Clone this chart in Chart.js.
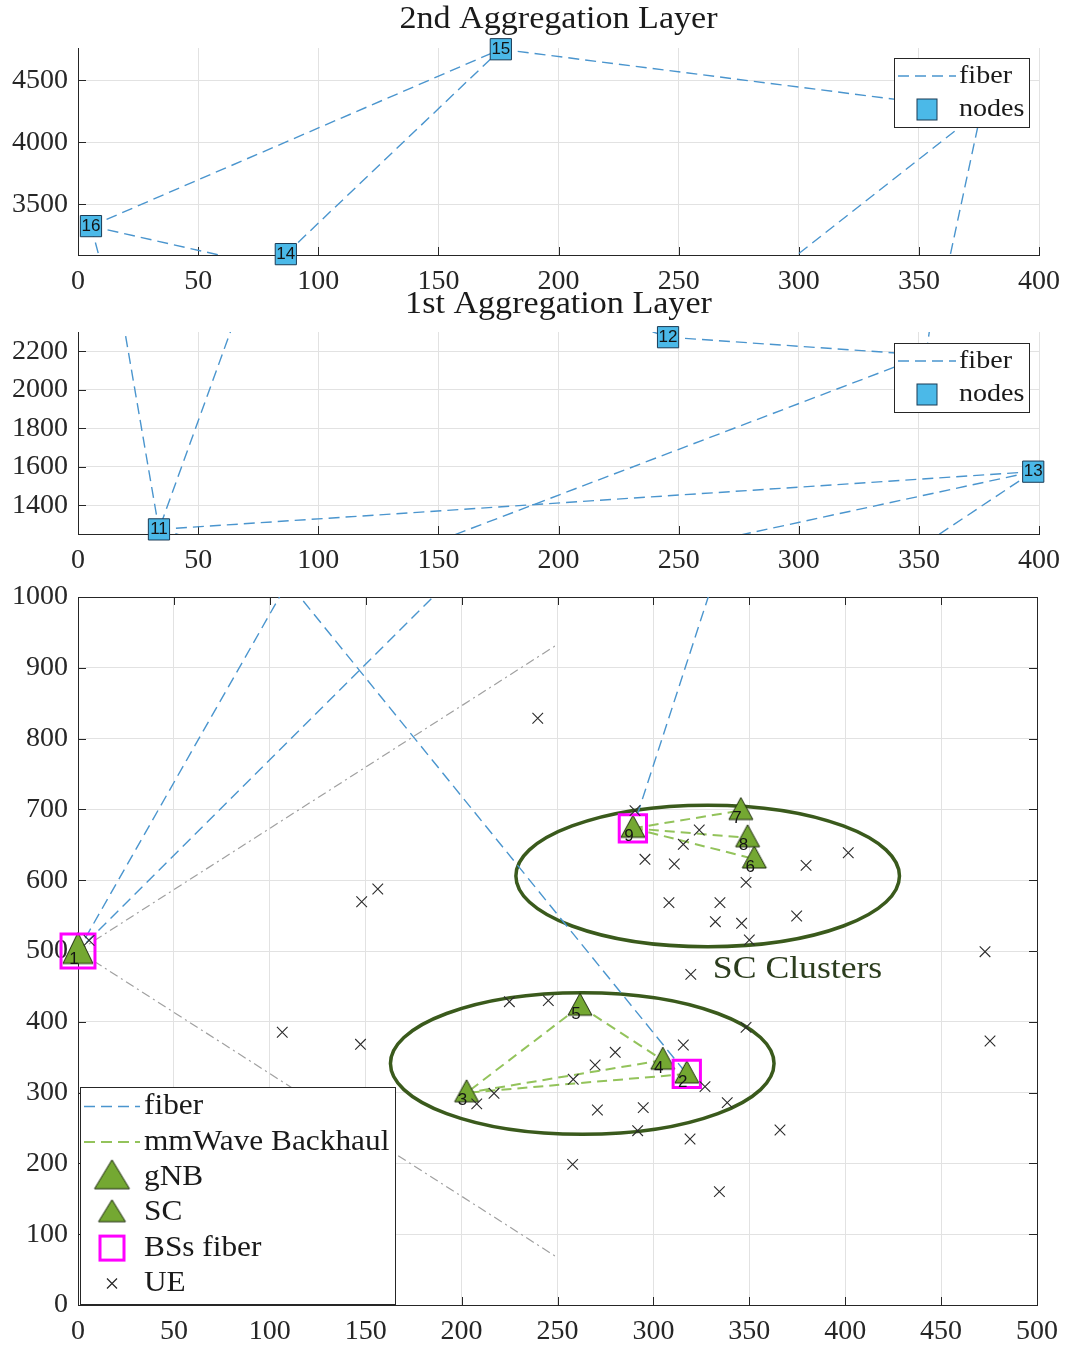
<!DOCTYPE html>
<html>
<head>
<meta charset="utf-8">
<title>Aggregation layers and SC clusters</title>
<script src="https://cdn.jsdelivr.net/npm/chart.js@4.4.1/dist/chart.umd.min.js"></script>
<style>
  html, body { margin: 0; background: #fff; }
  #page { position: relative; width: 1070px; height: 1349px; overflow: hidden; }
  .panel { position: absolute; left: 0; width: 1070px; }
  .panel canvas { display: block; }
</style>
</head>
<body>
<div id="page">
  <div class="panel" style="top:0;height:300px"><canvas id="layer2"></canvas></div>
  <div class="panel" style="top:286px;height:300px"><canvas id="layer1"></canvas></div>
  <div class="panel" style="top:580px;height:769px"><canvas id="access"></canvas></div>
</div>
<script>
// aggregation nodes, absolute coordinates (h1 / h2 sit under the legends)
const aggNames = ['11', '12', '13', '14', '15', '16', 'h1', 'h2'];
const aggX = [33.7, 245.6, 397.6, 86.5, 176, 5.4, 376, 353];
const aggY = [1274, 2273, 1574, 3097, 4750, 3323, 4258, 2180];
const aggLayer = [1, 1, 1, 2, 2, 2, 2, 1];

// base stations of the access network
const bsNames = ['1', '2', '3', '4', '5', '6', '7', '8', '9'];
const bsX = [0, 317.4, 202.6, 304.9, 261.7, 352.6, 345.6, 349.1, 289.3];
const bsY = [500, 326.4, 299.7, 345.8, 422, 630, 698.4, 659.9, 673.3];
const gnbNames = ['1'];
const fiberBsNames = ['1', '2', '9'];

const fiberLinks = [
  ['16', '15'], ['14', '15'], ['15', 'h1'], ['16', '11'], ['16', '12'], ['14', '11'], ['h1', '12'],
  ['h1', 'h2'], ['11', '13'], ['12', 'h2'], ['13', '1'], ['h2', '1'], ['13', '9'], ['11', '2']
];
const mmWaveLinks = [['9', '7'], ['9', '8'], ['9', '6'], ['2', '3'], ['4', '3'], ['5', '3'], ['5', '4']];

// user equipment
const ueX = [5.8, 106.5, 147.3, 147.9, 156.3, 207.9, 216.9, 224.9, 239.7, 245.2, 257.9, 258.2, 269.6, 270.8,
  280.1, 290.4, 291.8, 294.7, 295.6, 308.1, 310.9, 315.6, 315.6, 319.1, 319.5, 323.9, 326.9, 332.3, 334.4,
  334.7, 338.5, 346, 348.3, 348.3, 350, 366, 374.7, 379.6, 401.6, 472.9, 475.5];
const ueY = [515, 385.2, 368.2, 569.6, 587.6, 284, 299, 428.4, 828.7, 429.9, 198.7, 318.8, 339, 275.4,
  356.9, 698.2, 246.2, 278.7, 629.5, 568.3, 622.9, 650.7, 367.2, 234.5, 467, 670.9, 308.4, 541.4, 160.2,
  568.3, 285.8, 539.1, 597, 392.2, 515.5, 247.2, 549.4, 621, 638.8, 499, 372.9];

// gNB sector edges (dash-dot), from the gNB
const sectorEndX = [250, 250];
const sectorEndY = [933, 67];

// SC clusters
const clusterX = [328.3, 262.9];
const clusterY = [606, 341];
const clusterR = [100, 100];
const clusterText = 'SC Clusters';
const clusterTextX = 331;
const clusterTextY = 473;

// axes
const aggXTicks = [0, 50, 100, 150, 200, 250, 300, 350, 400];
const layer2YTicks = [3500, 4000, 4500];
const layer1YTicks = [1400, 1600, 1800, 2000, 2200];
const accessXTicks = [0, 50, 100, 150, 200, 250, 300, 350, 400, 450, 500];
const accessYTicks = [0, 100, 200, 300, 400, 500, 600, 700, 800, 900, 1000];

const SERIF = '"Liberation Serif", "Times New Roman", serif';
const SANS = '"Liberation Sans", Arial, sans-serif';
const INK = '#262626';
const GRID = '#e2e2e2';
const FIBER = '#4a95ce';
const MMWAVE = '#93c35b';
const SECTOR = '#a0a0a0';
const ELLIPSE = '#3a5a1c';
const TRI_FILL = '#74a832';
const NODE_FILL = '#4bb9e8';
const MAGENTA = '#ff00ff';

function pos(name) {
  let i = aggNames.indexOf(name);
  if (i >= 0) return { x: aggX[i], y: aggY[i] };
  i = bsNames.indexOf(name);
  return { x: bsX[i], y: bsY[i] };
}

// triangle marker as an image; the data point sits 0.6 of the height below the apex
function triangleImage(w, h) {
  const c = document.createElement('canvas');
  const pad = 2;
  c.width = w + 2 * pad;
  c.height = Math.round(2 * (pad + 0.6 * h));
  const g = c.getContext('2d');
  g.beginPath();
  g.moveTo(c.width / 2, pad);
  g.lineTo(pad + w, pad + h);
  g.lineTo(pad, pad + h);
  g.closePath();
  g.fillStyle = TRI_FILL;
  g.fill();
  g.lineWidth = 1;
  g.strokeStyle = '#1c2a0c';
  g.stroke();
  return c;
}
const gnbImg = triangleImage(30, 31);
const scImg = triangleImage(24, 22);
const gnbLegendImg = triangleImage(35, 29);
const scLegendImg = triangleImage(27, 22);

function wideText(ctx, str, x, y, size, align, sx, color, family) {
  ctx.save();
  ctx.font = size + 'px ' + (family || SERIF);
  ctx.fillStyle = color || INK;
  ctx.textBaseline = 'middle';
  ctx.textAlign = 'left';
  const w = ctx.measureText(str).width * sx;
  const left = align === 'center' ? x - w / 2 : align === 'right' ? x - w : x;
  ctx.translate(left, y);
  ctx.scale(sx, 1);
  ctx.fillText(str, 0, 0);
  ctx.restore();
}

function axes(xMin, xMax, xTicks, yMin, yMax, yTicks, xHeight) {
  const font = { family: SERIF, size: 28 };
  return {
    x: {
      type: 'linear', min: xMin, max: xMax,
      afterBuildTicks: s => { s.ticks = xTicks.map(v => ({ value: v })); },
      afterFit: s => { s.height = xHeight; },
      ticks: { font, color: INK, padding: 10, maxRotation: 0, autoSkip: false, callback: v => String(v) },
      grid: { color: GRID, drawTicks: false },
      border: { color: INK, width: 1 }
    },
    y: {
      type: 'linear', min: yMin, max: yMax,
      afterBuildTicks: s => { s.ticks = yTicks.map(v => ({ value: v })); },
      afterFit: s => { s.width = 78; s.paddingTop = 0; s.paddingBottom = 0; },
      ticks: { font, color: INK, padding: 10, autoSkip: false, callback: v => String(v) },
      grid: { color: GRID, drawTicks: false },
      border: { color: INK, width: 1 }
    }
  };
}

// inward tick marks, and the full box on the access plot
function framePlugin(box) {
  return {
    id: 'frame',
    beforeDatasetsDraw(chart) {
      const { ctx, chartArea: a, scales } = chart;
      ctx.save();
      ctx.strokeStyle = INK;
      ctx.lineWidth = 1;
      ctx.beginPath();
      scales.x.ticks.forEach(t => {
        const p = Math.round(scales.x.getPixelForValue(t.value)) + 0.5;
        ctx.moveTo(p, a.bottom); ctx.lineTo(p, a.bottom - 8);
        if (box) { ctx.moveTo(p, a.top); ctx.lineTo(p, a.top + 8); }
      });
      scales.y.ticks.forEach(t => {
        const p = Math.round(scales.y.getPixelForValue(t.value)) + 0.5;
        ctx.moveTo(a.left, p); ctx.lineTo(a.left + 8, p);
        if (box) { ctx.moveTo(a.right, p); ctx.lineTo(a.right - 8, p); }
      });
      if (box) ctx.rect(a.left + 0.5, a.top + 0.5, a.right - a.left, a.bottom - a.top);
      ctx.stroke();
      ctx.restore();
    }
  };
}

function titlePlugin(text, y) {
  return {
    id: 'panelTitle',
    afterDraw(chart) {
      const a = chart.chartArea;
      wideText(chart.ctx, text, (a.left + a.right) / 2, y, 31, 'center', 1.1, '#1a1a1a');
    }
  };
}

function drawSymbol(ctx, kind, cx, cy, w) {
  ctx.save();
  if (kind === 'fiber' || kind === 'mmwave') {
    ctx.strokeStyle = kind === 'fiber' ? FIBER : MMWAVE;
    ctx.lineWidth = kind === 'fiber' ? 1.5 : 2;
    ctx.setLineDash([11, 6]);
    ctx.beginPath();
    ctx.moveTo(cx - w / 2, cy); ctx.lineTo(cx + w / 2, cy);
    ctx.stroke();
  } else if (kind === 'node') {
    ctx.fillStyle = NODE_FILL;
    ctx.strokeStyle = '#1b3b55';
    ctx.fillRect(cx - 10, cy - 10, 20, 21);
    ctx.strokeRect(cx - 10, cy - 10, 20, 21);
  } else if (kind === 'gnb' || kind === 'sc') {
    const img = kind === 'gnb' ? gnbLegendImg : scLegendImg;
    ctx.drawImage(img, cx - img.width / 2, cy - img.height / 2);
  } else if (kind === 'bsfiber') {
    ctx.strokeStyle = MAGENTA;
    ctx.lineWidth = 3;
    ctx.strokeRect(cx - 12, cy - 12, 24, 24);
  } else if (kind === 'ue') {
    ctx.strokeStyle = INK;
    ctx.lineWidth = 1.2;
    ctx.beginPath();
    ctx.moveTo(cx - 5, cy - 5); ctx.lineTo(cx + 5, cy + 5);
    ctx.moveTo(cx + 5, cy - 5); ctx.lineTo(cx - 5, cy + 5);
    ctx.stroke();
  }
  ctx.restore();
}

function legendPlugin(cfg) {
  return {
    id: 'boxLegend',
    afterDraw(chart) {
      const { ctx, chartArea: a } = chart;
      const left = cfg.right != null ? a.right - cfg.right - cfg.width : a.left + cfg.left;
      const top = cfg.bottom != null ? a.bottom - cfg.bottom - cfg.height : a.top + cfg.top;
      ctx.save();
      ctx.fillStyle = '#fff';
      ctx.fillRect(left, top, cfg.width, cfg.height);
      ctx.strokeStyle = INK;
      ctx.lineWidth = 1;
      ctx.strokeRect(Math.round(left) + 0.5, Math.round(top) + 0.5, cfg.width, cfg.height);
      ctx.restore();
      cfg.items.forEach((it, k) => {
        const y = top + cfg.firstRow + k * cfg.rowGap;
        drawSymbol(ctx, it.kind, left + cfg.symbolX, y, cfg.symbolW);
        wideText(ctx, it.label, left + cfg.textX, y, cfg.size, 'left', cfg.sx, '#1a1a1a');
      });
    }
  };
}

// node numbers drawn over the markers
function labelPlugin(names, dx, dy, size) {
  return {
    id: 'nodeLabels',
    afterDatasetsDraw(chart) {
      const { ctx, scales } = chart;
      names.forEach(n => {
        if (n.startsWith('h')) return;
        const p = pos(n);
        const px = scales.x.getPixelForValue(p.x);
        const py = scales.y.getPixelForValue(p.y);
        wideText(ctx, n, px + dx, py + dy, size, 'center', 1, '#141414', SANS);
      });
    }
  };
}

const clusterPlugin = {
  id: 'clusters',
  beforeDatasetsDraw(chart) {
    const { ctx, scales: { x, y } } = chart;
    ctx.save();
    ctx.strokeStyle = ELLIPSE;
    ctx.lineWidth = 3.5;
    clusterX.forEach((cx, i) => {
      const px = x.getPixelForValue(cx);
      const py = y.getPixelForValue(clusterY[i]);
      const rx = Math.abs(x.getPixelForValue(cx + clusterR[i]) - px);
      const ry = Math.abs(y.getPixelForValue(clusterY[i] + clusterR[i]) - py);
      ctx.beginPath();
      ctx.ellipse(px, py, rx, ry, 0, 0, Math.PI * 2);
      ctx.stroke();
    });
    ctx.restore();
  },
  afterDatasetsDraw(chart) {
    const { ctx, scales: { x, y } } = chart;
    wideText(ctx, clusterText, x.getPixelForValue(clusterTextX), y.getPixelForValue(clusterTextY),
      31, 'left', 1.15, '#2c3d1e');
  }
};

function fiberSets() {
  return fiberLinks.map(([a, b]) => ({
    data: [pos(a), pos(b)], showLine: true, borderColor: FIBER, borderWidth: 1.4,
    borderDash: [11, 6], pointRadius: 0, clip: 0, order: 5
  }));
}

function layerNodeSet(layer) {
  const names = aggNames.filter((n, i) => aggLayer[i] === layer);
  return {
    data: names.map(pos), showLine: false, pointStyle: 'rect', pointRadius: 15,
    pointBackgroundColor: NODE_FILL, pointBorderColor: '#1b3b55', pointBorderWidth: 1, clip: false, order: 0
  };
}

Chart.defaults.font.family = SERIF;

const common = {
  responsive: true,
  maintainAspectRatio: false,
  animation: false,
  events: [],
  plugins: { legend: { display: false }, tooltip: { enabled: false } }
};

const nodesLegend = {
  right: 10, top: 10, width: 135, height: 69, firstRow: 18, rowGap: 33,
  symbolX: 33, symbolW: 58, textX: 65, size: 26, sx: 1.08,
  items: [{ label: 'fiber', kind: 'fiber' }, { label: 'nodes', kind: 'node' }]
};

// 2nd aggregation layer
new Chart(document.getElementById('layer2'), {
  type: 'scatter',
  data: { datasets: [layerNodeSet(2), ...fiberSets()] },
  options: {
    ...common,
    layout: { autoPadding: false, padding: { top: 48, right: 30, left: 0, bottom: 0 } },
    scales: axes(0, 400, aggXTicks, 3090, 4760, layer2YTicks, 45)
  },
  plugins: [framePlugin(false), labelPlugin(aggNames.filter((n, i) => aggLayer[i] === 2), 0, 0, 17),
    legendPlugin(nodesLegend), titlePlugin('2nd Aggregation Layer', 20)]
});

// 1st aggregation layer
new Chart(document.getElementById('layer1'), {
  type: 'scatter',
  data: { datasets: [layerNodeSet(1), ...fiberSets()] },
  options: {
    ...common,
    layout: { autoPadding: false, padding: { top: 46, right: 30, left: 0, bottom: 0 } },
    scales: axes(0, 400, aggXTicks, 1250, 2300, layer1YTicks, 52)
  },
  plugins: [framePlugin(false), labelPlugin(aggNames.filter((n, i) => aggLayer[i] === 1), 0, 0, 17),
    legendPlugin({ ...nodesLegend, top: 11 }), titlePlugin('1st Aggregation Layer', 19)]
});

// access network with SC clusters
const gnbPoint = pos(gnbNames[0]);
const scNames = bsNames.filter(n => !gnbNames.includes(n));
new Chart(document.getElementById('access'), {
  type: 'scatter',
  data: {
    datasets: [
      {
        data: ueX.map((x, i) => ({ x, y: ueY[i] })), showLine: false, pointStyle: 'crossRot',
        pointRadius: 7.5, pointBorderColor: '#2b2b2b', pointBorderWidth: 1.1, clip: false, order: 0
      },
      {
        data: fiberBsNames.map(pos), showLine: false, pointStyle: 'rect',
        pointRadius: fiberBsNames.map(n => gnbNames.includes(n) ? 24 : 19.3),
        pointBackgroundColor: 'rgba(0,0,0,0)', pointBorderColor: MAGENTA, pointBorderWidth: 3, clip: false, order: 1
      },
      {
        data: gnbNames.map(pos), showLine: false, pointStyle: gnbImg, pointRadius: 15, clip: false, order: 2
      },
      {
        data: scNames.map(pos), showLine: false, pointStyle: scImg, pointRadius: 12, clip: false, order: 2
      },
      ...mmWaveLinks.map(([a, b]) => ({
        data: [pos(a), pos(b)], showLine: true, borderColor: MMWAVE, borderWidth: 2,
        borderDash: [10, 6], pointRadius: 0, clip: 0, order: 4
      })),
      ...fiberSets(),
      ...sectorEndX.map((x, i) => ({
        data: [gnbPoint, { x, y: sectorEndY[i] }], showLine: true, borderColor: SECTOR, borderWidth: 1.2,
        borderDash: [9, 4, 2, 4], pointRadius: 0, clip: 0, order: 6
      }))
    ]
  },
  options: {
    ...common,
    layout: { autoPadding: false, padding: { top: 17, right: 33, left: 0, bottom: 0 } },
    scales: axes(0, 500, accessXTicks, 0, 1000, accessYTicks, 44)
  },
  plugins: [clusterPlugin, framePlugin(true), labelPlugin(bsNames, -4, 8, 17),
    legendPlugin({
      left: 2, bottom: 1, width: 315, height: 217, firstRow: 19.5, rowGap: 35.4,
      symbolX: 32, symbolW: 56, textX: 64, size: 29, sx: 1.08,
      items: [
        { label: 'fiber', kind: 'fiber' }, { label: 'mmWave Backhaul', kind: 'mmwave' },
        { label: 'gNB', kind: 'gnb' }, { label: 'SC', kind: 'sc' },
        { label: 'BSs fiber', kind: 'bsfiber' }, { label: 'UE', kind: 'ue' }
      ]
    })]
});
</script>
</body>
</html>
